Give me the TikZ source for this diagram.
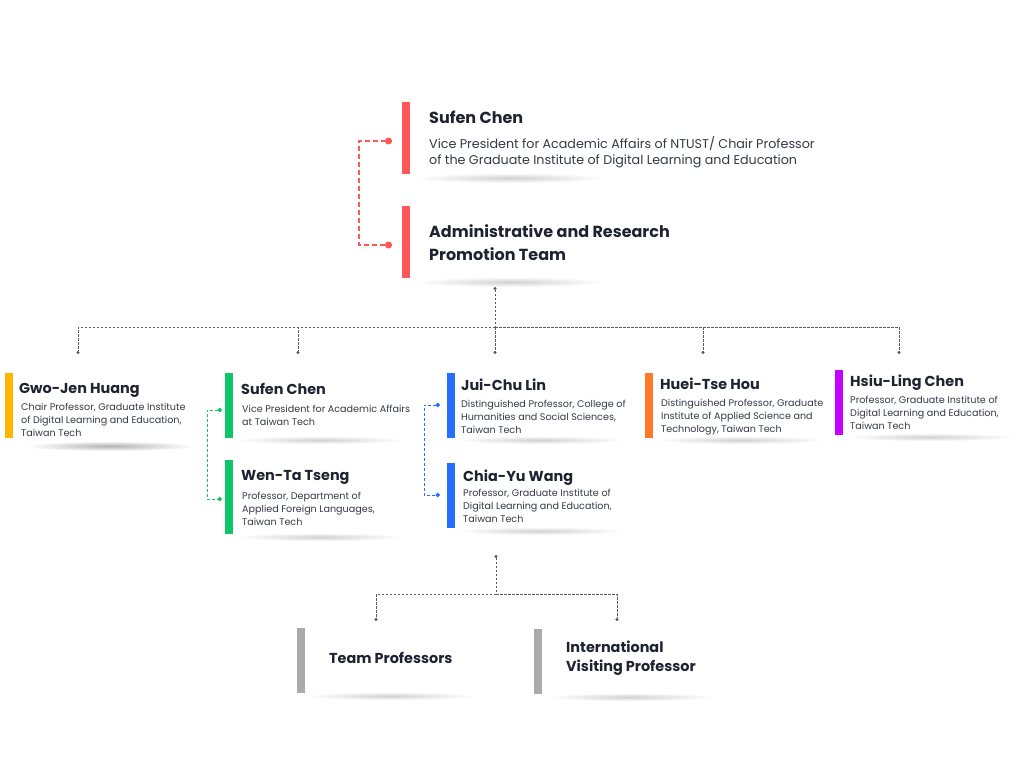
\documentclass[tikz,border=0pt]{standalone}
\usepackage{fontspec}
\setmainfont{Poppins}
\usetikzlibrary{arrows.meta,positioning,calc}
\definecolor{BarRed}{RGB}{255,87,87}
\definecolor{BarGreen}{RGB}{16,196,104}
\definecolor{BarBlue}{RGB}{38,110,255}
\definecolor{BarOrange}{RGB}{255,122,40}
\definecolor{BarAmber}{RGB}{255,182,0}
\definecolor{BarPurple}{RGB}{200,0,255}
\definecolor{BarGray}{RGB}{170,170,170}
\definecolor{InkDark}{RGB}{31,35,48}
\definecolor{LinkGray}{RGB}{90,90,90}

\begin{document}
\begin{tikzpicture}[x=1pt,y=-1pt,
  bar/.style={rectangle,fill=#1,minimum width=8pt,inner sep=0pt},
  % multi-line nodes sit on the baseline of their last line
  who/.style={anchor=base west,inner sep=0pt,text=InkDark,align=left,
               font=\fontsize{14.4}{19}\selectfont\bfseries},
  bigwho/.style={who,font=\fontsize{16}{23}\selectfont\bfseries},
  role/.style={anchor=base west,inner sep=0pt,text=InkDark!90,align=left,
               font=\fontsize{9.6}{12.8}\selectfont},
  bigrole/.style={role,font=\fontsize{12.7}{16.5}\selectfont},
  soft/.style={inner color=black!18,outer color=white},
  tree/.style={LinkGray,line width=0.8pt,dash pattern=on 2.5pt off 1.5pt},
  duo/.style={line width=1pt,dash pattern=on 3pt off 2pt,
              {Circle[length=4.5pt]}-{Circle[length=4.5pt]}},
]
\useasboundingbox (0,0) rectangle (1024,768);

% shadows
\shade[soft] (510,178) ellipse (95 and 5);
\shade[soft] (510,282) ellipse (95 and 5);
\shade[soft,inner color=black!30] (110,446) ellipse (85 and 5);
\shade[soft] (320,440) ellipse (85 and 4);
\shade[soft] (320,537) ellipse (85 and 4);
\shade[soft] (540,440) ellipse (85 and 4);
\shade[soft] (540,531) ellipse (85 and 4);
\shade[soft] (740,440) ellipse (85 and 4);
\shade[soft] (930,437) ellipse (85 and 4);
\shade[soft] (390,696) ellipse (85 and 4);
\shade[soft] (630,697) ellipse (85 and 4);

% top
\node[bar=BarRed,minimum height=72pt] (headBar) at (406,138) {};
\node[bigwho] (headName) at (429,123) {Sufen Chen};
\node[bigrole] (headRole) at (429,164.5)
  {Vice President for Academic Affairs of NTUST/ Chair Professor\\of the Graduate Institute of Digital Learning and Education};
\node[bar=BarRed,minimum height=72pt] (teamBar) at (406,242) {};
\node[bigwho] (teamName) at (429,260) {Administrative and Research\\Promotion Team};

% members
\node[bar=BarAmber,minimum height=65pt] (gjBar) at (9,405.5) {};
\node[who] (gjName) at (19,393) {Gwo-Jen Huang};
\node[role] (gjRole) at (21,436) {Chair Professor, Graduate Institute\\of Digital Learning and Education,\\Taiwan Tech};

\node[bar=BarGreen,minimum height=65pt] (scBar) at (229,405.5) {};
\node[who] (scName) at (241,394) {Sufen Chen};
\node[role] (scRole) at (242,425) {Vice President for Academic Affairs\\at Taiwan Tech};

\node[bar=BarGreen,minimum height=74pt] (wtBar) at (229,497) {};
\node[who] (wtName) at (241,480) {Wen-Ta Tseng};
\node[role] (wtRole) at (242,525) {Professor, Department of\\Applied Foreign Languages,\\Taiwan Tech};

\node[bar=BarBlue,minimum height=65pt] (jcBar) at (451,405.5) {};
\node[who] (jcName) at (461,390) {Jui-Chu Lin};
\node[role] (jcRole) at (461,433.5) {Distinguished Professor, College of\\Humanities and Social Sciences,\\Taiwan Tech};

\node[bar=BarBlue,minimum height=65pt] (cyBar) at (451,495.5) {};
\node[who] (cyName) at (463,481) {Chia-Yu Wang};
\node[role] (cyRole) at (463,522.5) {Professor, Graduate Institute of\\Digital Learning and Education,\\Taiwan Tech};

\node[bar=BarOrange,minimum height=65pt] (htBar) at (649,405.5) {};
\node[who] (htName) at (660,389) {Huei-Tse Hou};
\node[role] (htRole) at (661,432.5) {Distinguished Professor, Graduate\\Institute of Applied Science and\\Technology, Taiwan Tech};

\node[bar=BarPurple,minimum height=65pt] (hlBar) at (839,402.5) {};
\node[who] (hlName) at (850,386) {Hsiu-Ling Chen};
\node[role] (hlRole) at (850,429.5) {Professor, Graduate Institute of\\Digital Learning and Education,\\Taiwan Tech};

\node[bar=BarGray,minimum height=65pt] (tpBar) at (301,660.5) {};
\node[who] (tpName) at (329,663) {Team Professors};
\node[bar=BarGray,minimum height=65pt] (vpBar) at (538,661.5) {};
\node[who] (vpName) at (566,671) {International\\Visiting Professor};

% link ends
\coordinate (headIn) at (392,141);
\coordinate (teamIn) at (392,245);
\coordinate (teamOut) at (495,287);
\coordinate (teamHub) at (495,327);
\coordinate (gjIn) at (78,354);
\coordinate (scIn) at (298,354);
\coordinate (jcIn) at (495,354);
\coordinate (htIn) at (703,354);
\coordinate (hlIn) at (899,354);
\coordinate (scSide) at (222,410);
\coordinate (wtSide) at (222,499);
\coordinate (jcSide) at (440,405);
\coordinate (cySide) at (440,495);
\coordinate (cyOut) at (496,555);
\coordinate (cyHub) at (496,594);
\coordinate (tpIn) at (376,621);
\coordinate (vpIn) at (617,621);

% links
\draw[duo,BarRed,line width=1.4pt,dash pattern=on 5pt off 3pt,{Circle[length=7pt]}-{Circle[length=7pt]}]
  (headIn) -- ($(headIn)+(-33,0)$) |- (teamIn);
\draw[duo,BarGreen] (scSide) -- ($(scSide)+(-15,0)$) |- (wtSide);
\draw[duo,BarBlue] (jcSide) -- ($(jcSide)+(-16,0)$) |- (cySide);

\draw[tree,{Circle[length=3pt]}-] (teamOut) -- (teamHub);
\foreach \d in {gjIn,scIn,jcIn,htIn,hlIn}
  \draw[tree,-{Circle[length=3pt]}] (teamHub) -| (\d);
\draw[tree,{Circle[length=3pt]}-] (cyOut) -- (cyHub);
\foreach \d in {tpIn,vpIn}
  \draw[tree,-{Circle[length=3pt]}] (cyHub) -| (\d);
\end{tikzpicture}
\end{document}
